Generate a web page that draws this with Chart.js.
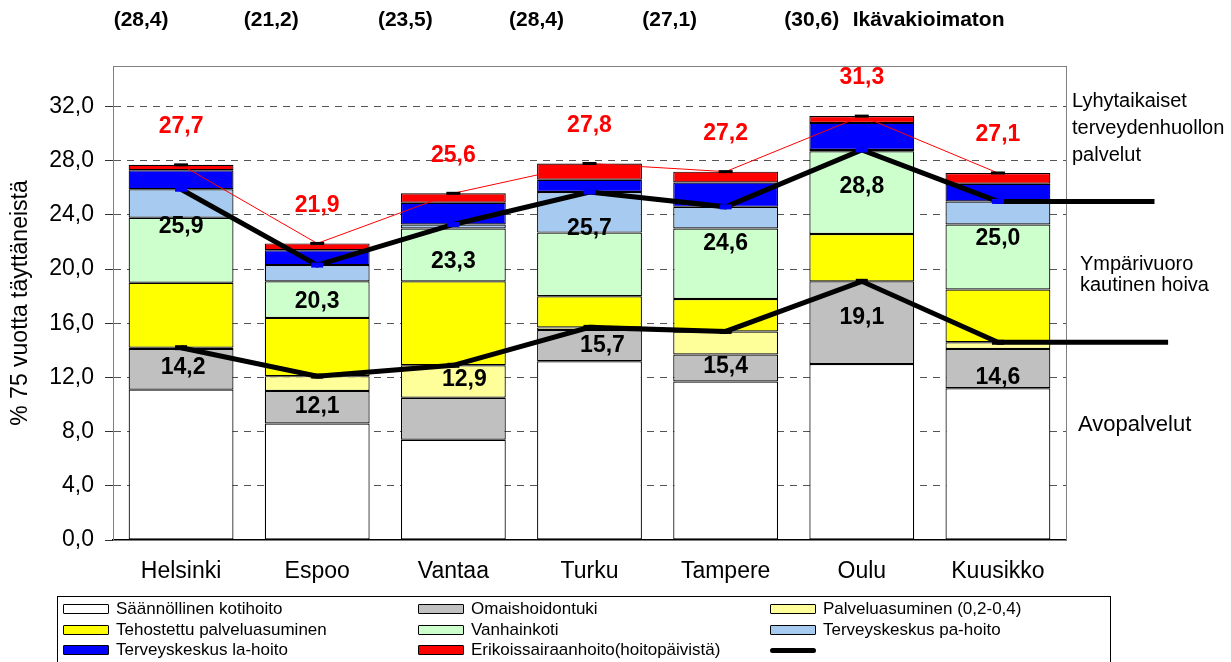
<!DOCTYPE html>
<html>
<head>
<meta charset="utf-8">
<script src="https://cdn.jsdelivr.net/npm/chart.js@4.4.0/dist/chart.umd.min.js"></script>
<style>
  html, body { margin: 0; padding: 0; background: #fff; overflow: hidden; }
  #wrap { position: relative; width: 1231px; height: 662px; }
  #legend {
    position: absolute; left: 57px; top: 596px; width: 1054px; height: 100px;
    border: 1px solid #000; box-sizing: border-box; padding: 2px 0 0 5px;
    display: grid; grid-template-columns: 355px 352px 1fr; grid-auto-rows: 20.5px;
    font: 17px "Liberation Sans", Arial, sans-serif; color: #000;
  }
  .item { display: flex; align-items: center; white-space: nowrap; }
  .sw { width: 44px; height: 8px; border: 1px solid #000; margin-right: 7px; border-radius: 1px; }
  .ln { width: 46px; height: 5px; background: #000; border-radius: 3px; margin-right: 7px; }
</style>
</head>
<body>
<div id="wrap">
  <canvas id="chart" width="1231" height="662"></canvas>
  <div id="legend"></div>
</div>
<script>
// Kaupungit
const cities = ["Helsinki", "Espoo", "Vantaa", "Turku", "Tampere", "Oulu", "Kuusikko"];

// Palvelujen osuudet (% 75 vuotta täyttäneistä), luettu kuvasta
const kotihoito = [11.1, 8.6, 7.4, 13.2, 11.7, 13.0, 11.2];
const omaishoito = [3.0, 2.4, 3.1, 2.3, 2.0, 6.1, 2.9];
const palveluasuminen = [0.1, 1.1, 2.4, 0.2, 1.7, 0.0, 0.5];
const tehostettu = [4.8, 4.3, 6.2, 2.3, 2.4, 3.5, 3.9];
const vanhainkoti = [4.8, 2.7, 3.9, 4.7, 5.2, 6.1, 4.8];
const paHoito = [2.1, 1.2, 0.3, 3.0, 1.6, 0.1, 1.7];
const laHoito = [1.4, 1.1, 1.6, 0.9, 1.8, 2.0, 1.3];
const erikois = [0.4, 0.5, 0.7, 1.2, 0.8, 0.5, 0.8];

// Summaviivat
const avopalvelut = [14.2, 12.1, 12.9, 15.7, 15.4, 19.1, 14.6];
const ymparivuorokautinen = [25.9, 20.3, 23.3, 25.7, 24.6, 28.8, 25.0];
const yhteensa = [27.7, 21.9, 25.6, 27.8, 27.2, 31.3, 27.1];

// Ikävakioimattomat luvut ylhäällä
const ikavakioimaton = [28.4, 21.2, 23.5, 28.4, 27.1, 30.6];

// Viivojen jatke oikealle (x-akselin yksiköissä)
const avoTailX = 7.25;
const ymparTailX = 7.15;

const fam = '"Liberation Sans", Arial, sans-serif';
Chart.defaults.font.family = fam;
Chart.defaults.color = "#000";

const fmt = (v) => v.toFixed(1).replace(".", ",");
const withTail = (arr, tailX) =>
  arr.map((v, i) => ({ x: i, y: v })).concat([{ x: tailX, y: arr[arr.length - 1] }]);

const barSet = (label, data, color) => ({
  type: "bar", label, data, backgroundColor: color,
  borderColor: "#000", borderWidth: 1.2, borderSkipped: false,
  stack: "kaikki", grouped: false,
  barPercentage: 0.77, categoryPercentage: 1, order: 3,
});

const markerOnly = (ctx) => (ctx.dataIndex < cities.length ? 6 : 0);

// Arvojen tekstit (offset pisteestä)
const labelNudgeLow = { dx: [2, 0, 11, 13, 0, 0, 0], dy: [20, 31, 14, 18, 35, 36, 35] };

const valueLabels = {
  id: "valueLabels",
  afterDatasetsDraw(chart) {
    const ctx = chart.ctx;
    ctx.save();
    ctx.textAlign = "center";
    ctx.textBaseline = "middle";
    ctx.font = "bold 23px " + fam;
    chart.data.datasets.forEach((ds, di) => {
      if (!ds.tag) return;
      const meta = chart.getDatasetMeta(di);
      for (let i = 0; i < cities.length; i++) {
        const p = meta.data[i];
        const v = ds.data[i].y;
        let x = p.x, y = p.y;
        if (ds.tag === "low") { x += labelNudgeLow.dx[i]; y += labelNudgeLow.dy[i]; ctx.fillStyle = "#000"; }
        if (ds.tag === "mid") { y += 37; ctx.fillStyle = "#000"; }
        if (ds.tag === "top") { y -= 38; ctx.fillStyle = "#FF0000"; }
        ctx.fillText(fmt(v), x, y);
      }
    });
    ctx.restore();
  },
};

const headerShift = [-40, -46, -48, -53, -56, -50];

const frameAndNotes = {
  id: "frameAndNotes",
  beforeDatasetsDraw(chart) {
    const { ctx, chartArea: a } = chart;
    ctx.save();
    ctx.strokeStyle = "#808080";
    ctx.lineWidth = 1;
    ctx.strokeRect(a.left + 0.5, a.top + 0.5, a.right - a.left, a.bottom - a.top);
    ctx.restore();
  },
  afterDraw(chart) {
    const { ctx, chartArea: a } = chart;
    const xs = chart.scales.x;
    ctx.save();
    ctx.fillStyle = "#000";
    ctx.textBaseline = "middle";
    ctx.textAlign = "center";
    ctx.font = "bold 21px " + fam;
    ikavakioimaton.forEach((v, i) => {
      ctx.fillText("(" + fmt(v) + ")", xs.getPixelForValue(i) + headerShift[i], 20);
    });
    ctx.textAlign = "left";
    ctx.fillText("Ikävakioimaton", xs.getPixelForValue(5) - 9, 20);

    ctx.font = "20px " + fam;
    ["Lyhytaikaiset", "terveydenhuollon", "palvelut"].forEach((t, k) => {
      ctx.fillText(t, a.right + 6, 101 + k * 27);
    });
    ["Ympärivuoro", "kautinen hoiva"].forEach((t, k) => {
      ctx.fillText(t, a.right + 14, 264 + k * 21);
    });
    ctx.font = "22px " + fam;
    ctx.fillText("Avopalvelut", a.right + 12, 425);
    ctx.restore();
  },
};

const chart = new Chart(document.getElementById("chart"), {
  data: {
    labels: cities,
    datasets: [
      barSet("Säännöllinen kotihoito", kotihoito, "#FFFFFF"),
      barSet("Omaishoidontuki", omaishoito, "#C0C0C0"),
      barSet("Palveluasuminen (0,2-0,4)", palveluasuminen, "#FFFF99"),
      barSet("Tehostettu palveluasuminen", tehostettu, "#FFFF00"),
      barSet("Vanhainkoti", vanhainkoti, "#CCFFCC"),
      barSet("Terveyskeskus pa-hoito", paHoito, "#A6CAF0"),
      barSet("Terveyskeskus la-hoito", laHoito, "#0000FF"),
      barSet("Erikoissairaanhoito(hoitopäivistä)", erikois, "#FF0000"),
      {
        type: "line", label: "", tag: "low", data: withTail(avopalvelut, avoTailX),
        xAxisID: "xl", yAxisID: "y2", borderColor: "#000", borderWidth: 5,
        pointStyle: "line", pointRadius: markerOnly, pointBorderColor: "#000", pointBorderWidth: 5,
        clip: false, order: 0,
      },
      {
        type: "line", label: "Ympärivuorokautinen hoiva", tag: "mid", data: withTail(ymparivuorokautinen, ymparTailX),
        xAxisID: "xl", yAxisID: "y2", borderColor: "#000", borderWidth: 5,
        pointStyle: "line", pointRadius: markerOnly, pointBorderColor: "#0000FF", pointBorderWidth: 5,
        clip: false, order: 0,
      },
      {
        type: "line", label: "Palvelut yhteensä", tag: "top", data: yhteensa.map((v, i) => ({ x: i, y: v })),
        xAxisID: "xl", yAxisID: "y2", borderColor: "#FF0000", borderWidth: 1,
        pointStyle: "line", pointRadius: 7, pointBorderColor: "#000", pointBorderWidth: 3,
        order: 1,
      },
    ],
  },
  options: {
    responsive: false,
    animation: false,
    layout: { padding: { left: 0, top: 66, right: 165, bottom: 67 } },
    plugins: { legend: { display: false }, tooltip: { enabled: false } },
    scales: {
      x: {
        stacked: true,
        afterFit(s) { s.height = 55; },
        grid: { display: true, drawOnChartArea: false, drawTicks: false },
        border: { color: "#000", width: 1.5 },
        ticks: { padding: 18, font: { size: 23 }, color: "#000" },
      },
      xl: { type: "linear", display: false, min: -0.5, max: 6.5 },
      y: {
        stacked: true, min: 0, max: 35,
        afterFit(s) { s.width = 113; },
        afterBuildTicks(s) { s.ticks = s.ticks.filter((t) => t.value % 4 === 0); },
        ticks: { stepSize: 4, padding: 11, font: { size: 23 }, color: "#000", callback: (v) => fmt(v) },
        grid: { color: "#555", tickColor: "#333", tickLength: 8, tickBorderDash: [] },
        border: { dash: [7, 6], color: "#333", width: 1 },
        title: { display: true, text: "% 75 vuotta täyttäneistä", font: { size: 23 }, color: "#000", padding: { top: 7, bottom: 0 } },
      },
      y2: { display: false, min: 0, max: 35 },
    },
  },
  plugins: [frameAndNotes, valueLabels],
});

// HTML-selite kolmeen sarakkeeseen
const legend = document.getElementById("legend");
chart.data.datasets.forEach((ds) => {
  const item = document.createElement("div");
  item.className = "item";
  const mark = document.createElement("span");
  if (ds.type === "bar") {
    mark.className = "sw";
    mark.style.background = ds.backgroundColor;
  } else {
    mark.className = "ln";
    mark.style.background = ds.borderColor === "#FF0000" ? "#FF0000" : "#000";
    if (ds.borderWidth < 2) mark.style.height = "2px";
  }
  item.appendChild(mark);
  item.appendChild(document.createTextNode(ds.label));
  legend.appendChild(item);
});
</script>
</body>
</html>
